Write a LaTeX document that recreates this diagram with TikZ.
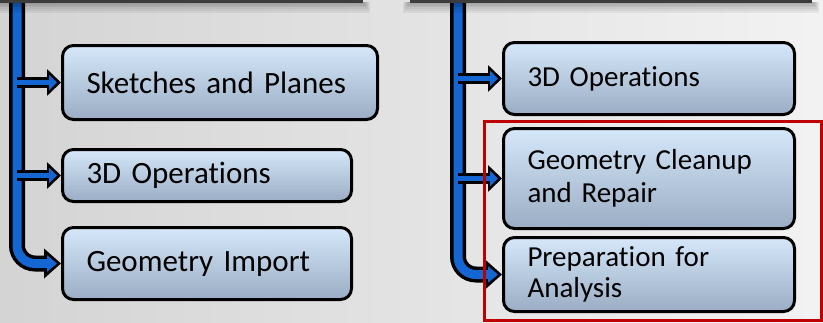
\documentclass[tikz,border=0pt]{standalone}
\usepackage{fontspec}
\setmainfont{Carlito}[Ligatures=NoCommon]
\usetikzlibrary{arrows.meta,positioning}

\definecolor{pipeblue}{HTML}{1466D2}
\definecolor{boxtop}{HTML}{D5E7F9}
\definecolor{boxbot}{HTML}{9BADC4}
\definecolor{framered}{HTML}{C00000}
\definecolor{barcol}{HTML}{3C3C3C}

\begin{document}
\begin{tikzpicture}[x=1pt,y=-1pt,
    stage/.style={draw=black, line width=3pt, rounded corners=11pt,
                  top color=boxtop, bottom color=boxbot, anchor=north west,
                  align=left, inner xsep=24pt, inner ysep=0pt},
    lfont/.style={font=\fontsize{31}{35}\selectfont},
    rfont/.style={font=\fontsize{29}{33}\selectfont},
    pipeout/.style={draw=black, line width=16pt, rounded corners=18pt,
                    -{Triangle[length=17pt,width=29pt]}},
    pipein/.style={draw=pipeblue, line width=9pt, rounded corners=18pt,
                   shorten >=4pt, -{Triangle[length=10pt,width=16pt]}},
    branchout/.style={draw=black, line width=11pt,
                      -{Triangle[length=14pt,width=26pt]}},
    branchin/.style={draw=pipeblue, line width=5pt, shorten >=4pt,
                     -{Triangle[length=8pt,width=15pt]}}]

  \useasboundingbox (0,0) rectangle (823,322);
  \clip (0,0) rectangle (823,322);

  % background
  \shade[left color=black!17, middle color=black!15, right color=black!5]
    (0,0) rectangle (823,322);

  % left column
  \node[stage, lfont, minimum width=315pt, minimum height=74pt, text width=267pt]
      (l1) at (61,44) {Sketches and Planes};
  \node[stage, lfont, minimum width=289pt, minimum height=52pt, text width=241pt,
        below=27pt of l1.south west, anchor=north west] (l2) {3D Operations};
  \node[stage, lfont, minimum width=289pt, minimum height=72pt, text width=241pt,
        below=23pt of l2.south west, anchor=north west] (l3) {Geometry Import};

  % right column
  \node[stage, rfont, minimum width=291pt, minimum height=72pt, text width=243pt]
      (r1) at (502,41) {3D Operations};
  \node[stage, rfont, minimum width=291pt, minimum height=100pt, text width=243pt,
        below=11pt of r1.south west, anchor=north west] (r2)
      {Geometry Cleanup\\and Repair};
  \node[stage, rfont, minimum width=291pt, minimum height=74pt, text width=243pt,
        below=6pt of r2.south west, anchor=north west] (r3)
      {Preparation for\\[-2pt]Analysis};

  % pipes
  \coordinate (ltop) at (17,-10);
  \coordinate (rtop) at (458,-10);
  \draw[pipeout] (ltop) |- (l3.west);
  \draw[pipein]  (ltop) |- (l3.west);
  \draw[pipeout] (rtop) |- (r3.west);
  \draw[pipein]  (rtop) |- (r3.west);
  \foreach \b in {l1,l2} {
    \draw[branchout] (\b.west -| ltop) -- (\b.west);
    \draw[branchin]  (\b.west -| ltop) -- (\b.west);
  }
  \foreach \b in {r1,r2} {
    \draw[branchout] (\b.west -| rtop) -- (\b.west);
    \draw[branchin]  (\b.west -| rtop) -- (\b.west);
  }

  % bars of the boxes above, with shadow
  \foreach \k in {1,...,6} {
    \fill[black, opacity=0.05] (0,2) rectangle (364+\k,2+1.8*\k);
    \fill[black, opacity=0.05] (409-\k,2) rectangle (813+\k,2+1.8*\k);
  }
  \fill[barcol] (-5,-20) rectangle (363,2.5);
  \fill[barcol] (410,-20) rectangle (812,2.5);

  % highlight frame
  \draw[framered, line width=3pt] (484.5,121) rectangle (821,320.5);
\end{tikzpicture}
\end{document}
